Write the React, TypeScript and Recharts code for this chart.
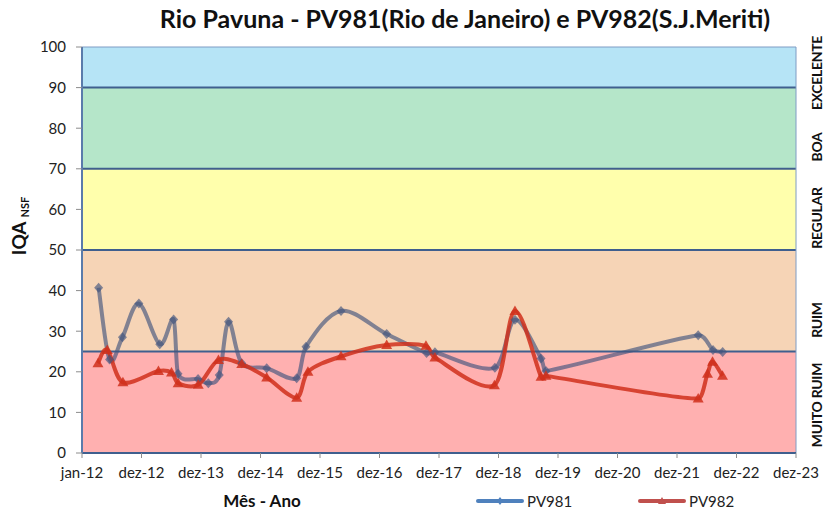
import React from 'react';
import { LineChart, Line, XAxis, YAxis, ReferenceArea, ReferenceLine } from 'recharts';

// sampling dates and IQA values
const pv981Dates = [
  '2012-04-12', '2012-06-18', '2012-09-05', '2012-12-15', '2013-04-22', '2013-07-16', '2013-08-12',
  '2013-12-13', '2014-02-14', '2014-04-22', '2014-06-18', '2014-09-07', '2015-02-07', '2015-08-10',
  '2015-10-06', '2016-05-08', '2017-02-12', '2017-10-15', '2017-12-05', '2018-12-08', '2019-04-10',
  '2019-09-17', '2019-10-17', '2022-05-08', '2022-08-07', '2022-10-05',
];
const pv981Values = [
  40.7, 23.0, 28.5, 36.8, 26.8, 32.9, 19.5,
  18.2, 17.2, 19.2, 32.3, 22.1, 20.9, 18.4,
  26.2, 35.0, 29.3, 24.6, 24.8, 21.0, 32.8,
  23.3, 20.2, 29.0, 25.4, 24.9,
];

const pv982Dates = [
  '2012-04-08', '2012-06-04', '2012-09-08', '2013-04-14', '2013-07-03', '2013-08-13', '2013-12-14',
  '2014-04-17', '2014-09-07', '2015-02-07', '2015-08-10', '2015-10-18', '2016-05-08', '2017-02-12',
  '2017-10-11', '2017-12-05', '2018-12-05', '2019-04-10', '2019-09-17', '2019-10-17', '2022-05-08',
  '2022-07-04', '2022-08-04', '2022-10-04',
];
const pv982Values = [
  22.1, 25.4, 17.4, 20.2, 19.8, 17.2, 16.8,
  22.9, 21.9, 18.6, 13.6, 20.0, 23.8, 26.6,
  26.4, 23.5, 16.7, 35.0, 18.8, 19.0, 13.4,
  19.5, 22.5, 19.0,
];

const xTickLabels = ['jan-12', 'dez-12', 'dez-13', 'dez-14', 'dez-15', 'dez-16', 'dez-17', 'dez-18', 'dez-19', 'dez-20', 'dez-21', 'dez-22', 'dez-23'];
const yTicks = [0, 10, 20, 30, 40, 50, 60, 70, 80, 90, 100];

const bands = [
  { from: 0, to: 25, color: '#ffb0b0', label: 'MUITO RUIM' },
  { from: 25, to: 50, color: '#f6d4b6', label: 'RUIM' },
  { from: 50, to: 70, color: '#ffffac', label: 'REGULAR' },
  { from: 70, to: 90, color: '#b5e6c9', label: 'BOA' },
  { from: 90, to: 100, color: '#b6e4f6', label: 'EXCELENTE' },
];

const dayOf = (s: string) => {
  const [y, m, d] = s.split('-').map(Number);
  return (Date.UTC(y, m - 1, d) - Date.UTC(2012, 0, 1)) / 86400000;
};

// Excel-like axis: starts jan-12, major unit 365 days
const xTicks = xTickLabels.map((_, i) => i * 365);

const pv981 = pv981Dates.map((d, i) => ({ x: dayOf(d), y: pv981Values[i] }));
const pv982 = pv982Dates.map((d, i) => ({ x: dayOf(d), y: pv982Values[i] }));

// Excel "smoothed line": Catmull-Rom bezier, tangents clamped on short segments
const excelSmooth = (context: any) => {
  let pts: number[][] = [];
  const clamp = (v: number[], dx: number) => {
    const lim = Math.abs(dx) * 0.5;
    const s = Math.abs(v[0]) > lim && v[0] !== 0 ? lim / Math.abs(v[0]) : 1;
    return [v[0] * s, v[1] * s];
  };
  return {
    areaStart() {},
    areaEnd() {},
    lineStart() { pts = []; },
    point(x: number, y: number) { pts.push([+x, +y]); },
    lineEnd() {
      if (!pts.length) return;
      context.moveTo(pts[0][0], pts[0][1]);
      for (let i = 0; i < pts.length - 1; i++) {
        const p0 = pts[i - 1] || pts[i];
        const p1 = pts[i];
        const p2 = pts[i + 1];
        const p3 = pts[i + 2] || p2;
        const dx = p2[0] - p1[0];
        const v1 = clamp([(p2[0] - p0[0]) / 6, (p2[1] - p0[1]) / 6], dx);
        const v2 = clamp([(p3[0] - p1[0]) / 6, (p3[1] - p1[1]) / 6], dx);
        context.bezierCurveTo(
          p1[0] + v1[0], p1[1] + v1[1],
          p2[0] - v2[0], p2[1] - v2[1],
          p2[0], p2[1],
        );
      }
    },
  };
};

const BLUE = '#3f5f8e';
const RED = '#d0301c';
const FONT = 'Lato, "Open Sans", sans-serif';

const Diamond = (props: any) => {
  const { cx, cy, index } = props;
  if (cx == null || cy == null) return <g key={`d-${index}`} />;
  return (
    <path key={`d-${index}`} d={`M${cx},${cy - 5}L${cx + 4.5},${cy}L${cx},${cy + 5}L${cx - 4.5},${cy}Z`}
      fill="#42547e" fillOpacity={0.65} />
  );
};

const Triangle = (props: any) => {
  const { cx, cy, index } = props;
  if (cx == null || cy == null) return <g key={`t-${index}`} />;
  return (
    <path key={`t-${index}`} d={`M${cx},${cy - 5.5}L${cx + 5.5},${cy + 4}L${cx - 5.5},${cy + 4}Z`}
      fill={RED} fillOpacity={0.85} />
  );
};

export default function App() {
  return (
    <div style={{ position: 'absolute', left: 0, top: 0, width: 827, height: 513, background: '#fff', fontFamily: FONT }}>
      <LineChart width={827} height={513} margin={{ top: 47, right: 31, left: 0, bottom: 0 }}>
        {bands.map(b => (
          <ReferenceArea key={b.label} y1={b.from} y2={b.to} fill={b.color} fillOpacity={1} stroke="none" />
        ))}
        {[25, 50, 70, 90].map(v => (
          <ReferenceLine key={v} y={v} stroke={BLUE} strokeWidth={2} />
        ))}
        <ReferenceLine y={100} stroke="#7f9cc4" strokeWidth={1} />
        <ReferenceLine x={4380} stroke="#7f9cc4" strokeWidth={1} />
        <XAxis
          dataKey="x"
          type="number"
          domain={[0, 4380]}
          ticks={xTicks}
          allowDataOverflow
          tickFormatter={(v: number) => xTickLabels[Math.round(v / 365)]}
          height={60}
          axisLine={{ stroke: BLUE, strokeWidth: 2 }}
          tickLine={{ stroke: '#8c8c8c' }}
          tickSize={5}
          tickMargin={9}
          tick={{ fill: '#222', fontSize: 15, fontFamily: FONT }}
        />
        <YAxis
          type="number"
          domain={[0, 100]}
          ticks={yTicks}
          width={82}
          axisLine={{ stroke: '#5a7bab', strokeWidth: 2 }}
          tickLine={{ stroke: '#8c8c8c' }}
          tickSize={6}
          tickMargin={10}
          tick={{ fill: '#222', fontSize: 15, fontFamily: FONT }}
        />
        <Line
          data={pv981}
          dataKey="y"
          type={excelSmooth as any}
          stroke="#42547e"
          strokeOpacity={0.65}
          strokeWidth={4}
          dot={Diamond}
          activeDot={false}
          isAnimationActive={false}
        />
        <Line
          data={pv982}
          dataKey="y"
          type={excelSmooth as any}
          stroke={RED}
          strokeOpacity={0.85}
          strokeWidth={4}
          dot={Triangle}
          activeDot={false}
          isAnimationActive={false}
        />
      </LineChart>

      <div style={{ position: 'absolute', left: 0, width: 930, top: 3, textAlign: 'center', fontSize: 25, fontWeight: 700, color: '#111', whiteSpace: 'nowrap' }}>
        Rio Pavuna - PV981(Rio de Janeiro) e PV982(S.J.Meriti)
      </div>

      <div style={{ position: 'absolute', left: 18, top: 226, transform: 'translate(-50%, -50%) rotate(-90deg)', whiteSpace: 'nowrap', fontWeight: 700, color: '#111' }}>
        <span style={{ fontSize: 19 }}>IQA</span>
        <span style={{ fontSize: 11, marginLeft: 4, position: 'relative', top: 3 }}>NSF</span>
      </div>

      <div style={{ position: 'absolute', left: 262, top: 500, transform: 'translate(-50%, -50%)', fontSize: 17, fontWeight: 700, color: '#111', whiteSpace: 'nowrap' }}>
        Mês - Ano
      </div>

      {[
        { label: 'EXCELENTE', y: 73 },
        { label: 'BOA', y: 147 },
        { label: 'REGULAR', y: 218 },
        { label: 'RUIM', y: 320 },
        { label: 'MUITO RUIM', y: 405 },
      ].map(l => (
        <div key={l.label} style={{ position: 'absolute', left: 816, top: l.y, transform: 'translate(-50%, -50%) rotate(-90deg)', fontSize: 14, fontWeight: 700, color: '#111', whiteSpace: 'nowrap', letterSpacing: -0.3 }}>
          {l.label}
        </div>
      ))}

      <div style={{ position: 'absolute', left: 476, top: 492, display: 'flex', alignItems: 'center', fontSize: 15, color: '#222' }}>
        <svg width={48} height={14}>
          <line x1={2} y1={7} x2={46} y2={7} stroke="#4f81bd" strokeWidth={4} strokeLinecap="round" />
          <path d="M24,3L27,7L24,11L21,7Z" fill="#4f81bd" />
        </svg>
        <span style={{ marginLeft: 3 }}>PV981</span>
      </div>
      <div style={{ position: 'absolute', left: 638, top: 492, display: 'flex', alignItems: 'center', fontSize: 15, color: '#222' }}>
        <svg width={48} height={14}>
          <line x1={2} y1={7} x2={46} y2={7} stroke="#c0504d" strokeWidth={4} strokeLinecap="round" />
          <path d="M24,3L28,10L20,10Z" fill="#c0504d" />
        </svg>
        <span style={{ marginLeft: 3 }}>PV982</span>
      </div>
    </div>
  );
}
